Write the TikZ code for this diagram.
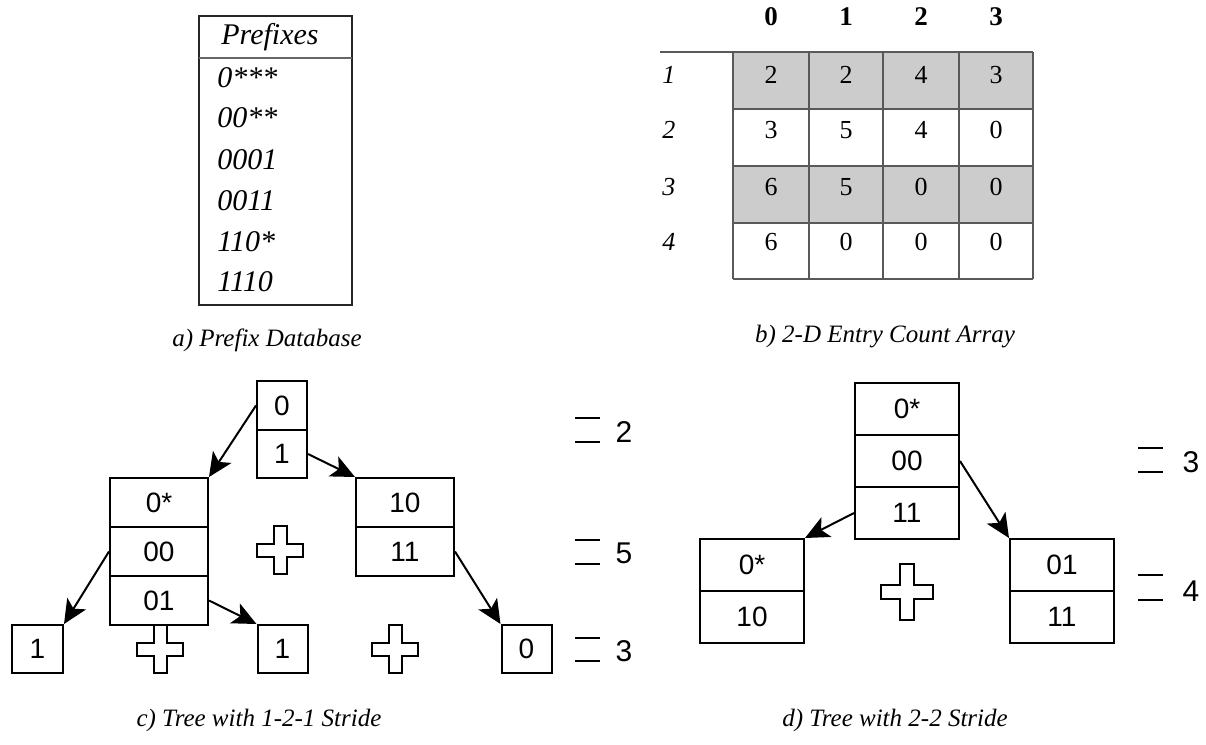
\documentclass[tikz,border=0pt]{standalone}
\usepackage{fontspec}
\setmainfont{Liberation Serif}
\newfontfamily\arialf{Liberation Sans}
\usetikzlibrary{arrows.meta}
\begin{document}
\begin{tikzpicture}[x=0.5pt,y=-0.5pt,
  cell/.style={draw, line width=1pt, inner sep=0pt, font=\arialf\fontsize{14}{16}\selectfont},
  pfx/.style={anchor=west, inner sep=0pt, font=\itshape\fontsize{15}{17}\selectfont},
  val/.style={inner sep=0pt, font=\fontsize{13}{15}\selectfont},
  colhd/.style={inner sep=0pt, font=\bfseries\fontsize{13.5}{15}\selectfont},
  rowhd/.style={anchor=west, inner sep=0pt, font=\itshape\fontsize{13}{15}\selectfont},
  captext/.style={inner sep=0pt, font=\itshape\fontsize{12.5}{14}\selectfont},
  lvl/.style={inner sep=0pt, font=\arialf\fontsize{15}{17}\selectfont},
  eqline/.style={line width=1pt},
  link/.style={line width=1pt, -{Stealth[length=12pt,width=11pt,inset=3pt]}},
  gridline/.style={line width=0.7pt, draw=black!65},
  plusmark/.pic={\draw[line width=1pt] (-6.5,-24) -- (6.5,-24) -- (6.5,-6.5) -- (23,-6.5) -- (23,6.5) -- (6.5,6.5) -- (6.5,24) -- (-6.5,24) -- (-6.5,6.5) -- (-23,6.5) -- (-23,-6.5) -- (-6.5,-6.5) -- cycle;}
]
\useasboundingbox (0,0) rectangle (1206,745);

% ---------- a) prefix database ----------
\draw[line width=1pt, draw=black!85] (199,16) rectangle (352,305);
\draw[line width=0.7pt, draw=black!60] (199,58) -- (352,58);
\node[inner sep=0pt, font=\itshape\fontsize{15}{17}\selectfont] (phead) at (270,37) {Prefixes};
\node[pfx] (p1) at (217,78) {0***};
\node[pfx] (p2) at (217,118) {00**};
\node[pfx] (p3) at (217,160) {0001};
\node[pfx] (p4) at (217,201) {0011};
\node[pfx] (p5) at (217,242) {110*};
\node[pfx] (p6) at (217,282) {1110};
\node[captext] (capa) at (267,340) {a) Prefix Database};

% ---------- b) 2-D entry count array ----------
\fill[black!20] (733,52) rectangle (1033,109);
\fill[black!20] (733,166) rectangle (1033,223);
\draw[gridline] (660,52) -- (1033,52);
\foreach \yy in {109,166,223,279} \draw[gridline] (733,\yy) -- (1033,\yy);
\foreach \xx in {733,809,883,959,1033} \draw[gridline] (\xx,52) -- (\xx,279);
\node[colhd] (h0) at (771,17) {0};
\node[colhd] (h1) at (846,17) {1};
\node[colhd] (h2) at (921,17) {2};
\node[colhd] (h3) at (996,17) {3};
\node[rowhd] (rw1) at (662,75) {1};
\node[rowhd] (rw2) at (662,130) {2};
\node[rowhd] (rw3) at (662,187) {3};
\node[rowhd] (rw4) at (662,242) {4};
\node[val] (v11) at (771,75) {2};  \node[val] (v12) at (846,75) {2};  \node[val] (v13) at (921,75) {4};  \node[val] (v14) at (996,75) {3};
\node[val] (v21) at (771,130) {3}; \node[val] (v22) at (846,130) {5}; \node[val] (v23) at (921,130) {4}; \node[val] (v24) at (996,130) {0};
\node[val] (v31) at (771,187) {6}; \node[val] (v32) at (846,187) {5}; \node[val] (v33) at (921,187) {0}; \node[val] (v34) at (996,187) {0};
\node[val] (v41) at (771,242) {6}; \node[val] (v42) at (846,242) {0}; \node[val] (v43) at (921,242) {0}; \node[val] (v44) at (996,242) {0};
\node[captext] (capb) at (885,337) {b) 2-D Entry Count Array};

% ---------- c) tree with 1-2-1 stride ----------
\node[cell, minimum width=25pt, minimum height=24.5pt] (cr0) at (282,405.5) {0};
\node[cell, minimum width=25pt, minimum height=24pt] (cr1) at (282,454) {1};
\node[cell, minimum width=49pt, minimum height=24.5pt] (cl0) at (159,502.5) {0*};
\node[cell, minimum width=49pt, minimum height=24.5pt] (cl1) at (159,551.5) {00};
\node[cell, minimum width=49pt, minimum height=24.5pt] (cl2) at (159,600.5) {01};
\node[cell, minimum width=49pt, minimum height=24.5pt] (cq0) at (405,502.5) {10};
\node[cell, minimum width=49pt, minimum height=24.5pt] (cq1) at (405,551.5) {11};
\node[cell, minimum width=25.5pt, minimum height=24pt] (ca) at (37.5,649) {1};
\node[cell, minimum width=25pt, minimum height=24pt] (cb) at (282.5,649) {1};
\node[cell, minimum width=25pt, minimum height=24pt] (cc) at (526.5,649) {0};
\draw[link] (cr0.west) -- (cl0.north east);
\draw[link] (cr1.east) -- (cq0.north west);
\draw[link] (cl1.west) -- (ca.north east);
\draw[link] (cl2.east) -- (cb.north west);
\draw[link] (cq1.east) -- (cc.north west);
\pic at (280,550) {plusmark};
\pic at (160,649) {plusmark};
\pic at (395,649) {plusmark};
\draw[eqline] (575,418) -- (600,418);
\draw[eqline] (575,442) -- (600,442);
\node[lvl] (cn1) at (624,432) {2};
\draw[eqline] (575,540) -- (600,540);
\draw[eqline] (575,564) -- (600,564);
\node[lvl] (cn2) at (624,553) {5};
\draw[eqline] (575,638) -- (600,638);
\draw[eqline] (575,661) -- (600,661);
\node[lvl] (cn3) at (624,651) {3};
\node[captext] (capc) at (259,720) {c) Tree with 1-2-1 Stride};

% ---------- d) tree with 2-2 stride ----------
\node[cell, minimum width=52pt, minimum height=26pt] (dr0) at (907,409) {0*};
\node[cell, minimum width=52pt, minimum height=26pt] (dr1) at (907,461) {00};
\node[cell, minimum width=52pt, minimum height=26pt] (dr2) at (907,513) {11};
\node[cell, minimum width=52pt, minimum height=26pt] (dl0) at (752,565) {0*};
\node[cell, minimum width=52pt, minimum height=26pt] (dl1) at (752,617) {10};
\node[cell, minimum width=52pt, minimum height=26pt] (dq0) at (1062,565) {01};
\node[cell, minimum width=52pt, minimum height=26pt] (dq1) at (1062,617) {11};
\draw[link] (dr2.west) -- (dl0.north east);
\draw[link] (dr1.east) -- (dq0.north west);
\pic[scale=1.15] at (907,592) {plusmark};
\draw[eqline] (1138,448) -- (1163,448);
\draw[eqline] (1138,472) -- (1163,472);
\node[lvl] (dn1) at (1191,462) {3};
\draw[eqline] (1138,575) -- (1163,575);
\draw[eqline] (1138,600) -- (1163,600);
\node[lvl] (dn2) at (1191,591) {4};
\node[captext] (capd) at (895,720) {d) Tree with 2-2 Stride};
\end{tikzpicture}
\end{document}
